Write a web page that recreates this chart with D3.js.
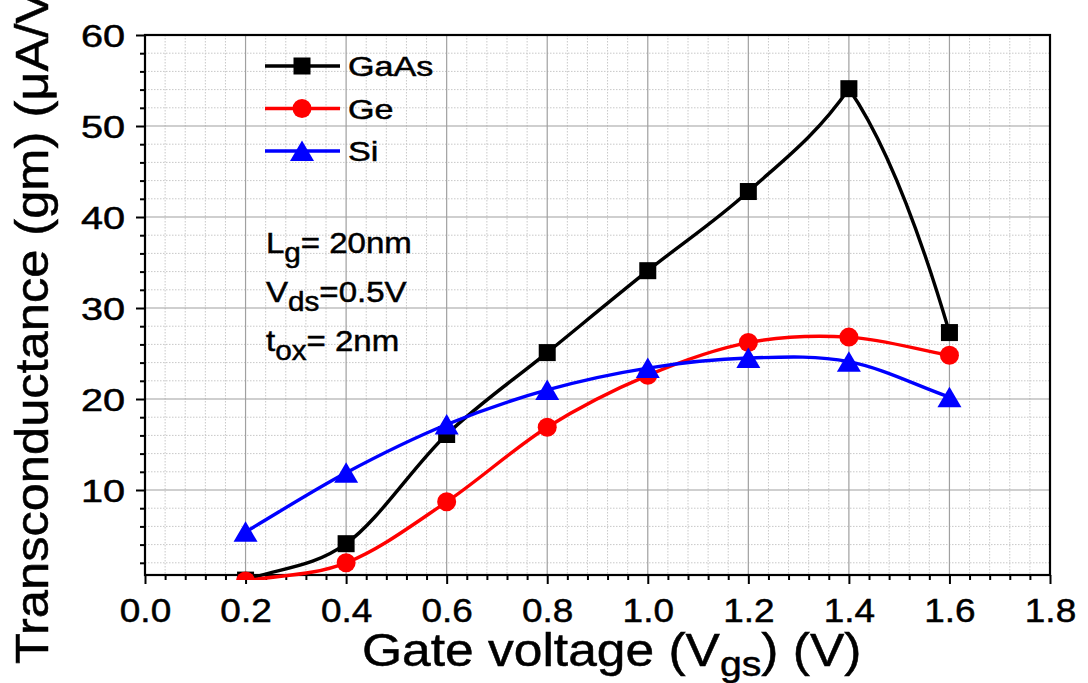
<!DOCTYPE html>
<html>
<head>
<meta charset="utf-8">
<script src="https://cdn.jsdelivr.net/npm/d3@7"></script>
<style>
  html, body { margin: 0; padding: 0; background: #fff; }
  svg { display: block; }
  text { font-family: "Liberation Sans", Arial, sans-serif; fill: #000; stroke: #000; stroke-width: 0.5px; }
</style>
</head>
<body>
<svg id="chart" width="1088" height="683"></svg>
<script>
// Gate voltage sweep (V)
const vgs = [0.2, 0.4, 0.6, 0.8, 1.0, 1.2, 1.4, 1.6];
// Transconductance gm (µA/V) per channel material
const gaas = [0.1, 4.1, 16.1, 25.1, 34.1, 42.8, 54.1, 27.3];
const ge   = [0.0, 2.0, 8.7, 16.9, 22.6, 26.2, 26.8, 24.8];
const si   = [5.4, 11.9, 17.2, 21.0, 23.4, 24.5, 24.1, 20.2];

const seriesNames = ["GaAs", "Ge", "Si"];
const xTickValues = [0.0, 0.2, 0.4, 0.6, 0.8, 1.0, 1.2, 1.4, 1.6, 1.8];
const yTickValues = [10, 20, 30, 40, 50, 60];

const plot = { left: 145, right: 1050, top: 35, bottom: 575 };

const svg = d3.select("#chart");

const x = d3.scaleLinear().domain([0, 1.8]).range([plot.left, plot.right]);
const y = d3.scaleLinear().domain([0.66, 60]).range([plot.bottom, plot.top]);

const xMinor = d3.range(0, 1.8001, 0.04).map(v => +v.toFixed(2)).filter(v => !xTickValues.some(t => Math.abs(t - v) < 1e-6));
const yMinor = d3.range(2, 60.001, 2).filter(v => v % 10 !== 0);

// ---- grid ----
const grid = svg.append("g");
grid.selectAll(".gxm").data(xMinor).join("line")
  .attr("x1", d => x(d)).attr("x2", d => x(d))
  .attr("y1", plot.top).attr("y2", plot.bottom)
  .attr("stroke", "#c8c8c8").attr("stroke-width", 1).attr("stroke-dasharray", "1.5,1.5");
grid.selectAll(".gym").data(yMinor).join("line")
  .attr("y1", d => y(d)).attr("y2", d => y(d))
  .attr("x1", plot.left).attr("x2", plot.right)
  .attr("stroke", "#c8c8c8").attr("stroke-width", 1).attr("stroke-dasharray", "1.5,1.5");
grid.selectAll(".gxM").data(xTickValues.slice(1, -1)).join("line")
  .attr("x1", d => x(d)).attr("x2", d => x(d))
  .attr("y1", plot.top).attr("y2", plot.bottom)
  .attr("stroke", "#a0a0a0").attr("stroke-width", 1.2);
grid.selectAll(".gyM").data(yTickValues.slice(0, -1)).join("line")
  .attr("y1", d => y(d)).attr("y2", d => y(d))
  .attr("x1", plot.left).attr("x2", plot.right)
  .attr("stroke", "#a0a0a0").attr("stroke-width", 1.2);

// ---- axes ----
const fmt = d3.format(".1f");
const xAxis = svg.append("g").attr("transform", `translate(0,${plot.bottom})`)
  .call(d3.axisBottom(x).tickValues(xTickValues).tickFormat(fmt).tickSize(9).tickSizeOuter(0));
const xAxisMinor = svg.append("g").attr("transform", `translate(0,${plot.bottom})`)
  .call(d3.axisBottom(x).tickValues(xMinor).tickFormat("").tickSize(5).tickSizeOuter(0));
const yAxis = svg.append("g").attr("transform", `translate(${plot.left},0)`)
  .call(d3.axisLeft(y).tickValues(yTickValues).tickSize(9).tickSizeOuter(0));
const yAxisMinor = svg.append("g").attr("transform", `translate(${plot.left},0)`)
  .call(d3.axisLeft(y).tickValues(yMinor).tickFormat("").tickSize(5).tickSizeOuter(0));

[xAxis, xAxisMinor, yAxis, yAxisMinor].forEach(g => {
  g.select(".domain").remove();
  g.selectAll(".tick line").attr("stroke", "#000").attr("stroke-width", 2);
});
xAxis.selectAll(".tick text")
  .attr("font-size", 33).attr("y", 0).attr("dy", 0).attr("fill", "#000")
  .attr("transform", "translate(0,47) scale(1.12,1)");
yAxis.selectAll(".tick text")
  .attr("font-size", 31).attr("x", 0).attr("dy", "0.36em").attr("fill", "#000")
  .attr("transform", "translate(-20,0) scale(1.28,1)");

// frame
svg.append("rect")
  .attr("x", plot.left).attr("y", plot.top)
  .attr("width", plot.right - plot.left).attr("height", plot.bottom - plot.top)
  .attr("fill", "none").attr("stroke", "#000").attr("stroke-width", 2.2);

// ---- curve: cubic Hermite through the points, with a split tangent at sharp peaks ----
const K = 0.6;
function curveSpline(context) {
  let xs, ys;
  return {
    areaStart() {}, areaEnd() {},
    lineStart() { xs = []; ys = []; },
    point(px, py) { xs.push(+px); ys.push(+py); },
    lineEnd() {
      const n = xs.length;
      if (!n) return;
      context.moveTo(xs[0], ys[0]);
      if (n === 1) return;
      const d = [];
      for (let i = 0; i < n - 1; i++) d.push((ys[i + 1] - ys[i]) / (xs[i + 1] - xs[i]));
      const mIn = new Array(n), mOut = new Array(n), cusp = new Array(n).fill(false);
      for (let i = 1; i < n - 1; i++) {
        if (d[i - 1] * d[i] < 0 && Math.min(Math.abs(d[i - 1]), Math.abs(d[i])) > 0.5) {
          cusp[i] = true;
          mIn[i] = (2 - K) * d[i - 1];
          mOut[i] = K * d[i];
        } else {
          mIn[i] = mOut[i] = (d[i - 1] + d[i]) / 2;
        }
      }
      mOut[0] = cusp[1] ? K * d[0] : d[0];
      mIn[n - 1] = cusp[n - 2] ? (2 - K) * d[n - 2] : d[n - 2];
      for (let i = 0; i < n - 1; i++) {
        const h = xs[i + 1] - xs[i];
        context.bezierCurveTo(
          xs[i] + h / 3, ys[i] + mOut[i] * h / 3,
          xs[i + 1] - h / 3, ys[i + 1] - mIn[i + 1] * h / 3,
          xs[i + 1], ys[i + 1]);
      }
    }
  };
}

// ---- data ----
svg.append("clipPath").attr("id", "plotClip").append("rect")
  .attr("x", plot.left).attr("y", plot.top)
  .attr("width", plot.right - plot.left).attr("height", plot.bottom - plot.top + 5);

const series = [
  { name: seriesNames[0], values: gaas, color: "#000000", marker: "square" },
  { name: seriesNames[1], values: ge,   color: "#ff0000", marker: "circle" },
  { name: seriesNames[2], values: si,   color: "#0000ff", marker: "triangle" }
];

const line = d3.line().x((d, i) => x(vgs[i])).y(d => y(d)).curve(curveSpline);

function drawMarker(g, kind, color) {
  if (kind === "square") {
    g.append("rect").attr("x", -8.5).attr("y", -8.5).attr("width", 17).attr("height", 17).attr("fill", color);
  } else if (kind === "circle") {
    g.append("circle").attr("r", 9.5).attr("fill", color);
  } else {
    g.append("path").attr("d", "M0,-10.5L12,10L-12,10Z").attr("fill", color);
  }
}

const dataLayer = svg.append("g").attr("clip-path", "url(#plotClip)");
series.forEach(s => {
  dataLayer.append("path").datum(s.values)
    .attr("d", line).attr("fill", "none")
    .attr("stroke", s.color).attr("stroke-width", 3.4).attr("stroke-linejoin", "round");
  s.values.forEach((v, i) => {
    const g = dataLayer.append("g").attr("transform", `translate(${x(vgs[i])},${y(v)})`);
    drawMarker(g, s.marker, s.color);
  });
});

// ---- legend ----
const legend = svg.append("g");
series.forEach((s, i) => {
  const ly = 66 + i * 42.5;
  legend.append("line").attr("x1", 265).attr("x2", 340).attr("y1", ly).attr("y2", ly)
    .attr("stroke", s.color).attr("stroke-width", 3.4);
  drawMarker(legend.append("g").attr("transform", `translate(302,${ly})`), s.marker, s.color);
  legend.append("text").attr("transform", `translate(348,${ly + 10}) scale(1.22,1)`)
    .attr("font-size", 28).text(s.name);
});

// ---- device parameters ----
const notes = [
  { main: "L", sub: "g", rest: "= 20nm" },
  { main: "V", sub: "ds", rest: "=0.5V" },
  { main: "t", sub: "ox", rest: "= 2nm" }
];
notes.forEach((nt, i) => {
  const t = svg.append("text")
    .attr("transform", `translate(266,${253 + i * 49}) scale(1.1,1)`)
    .attr("font-size", 30);
  t.append("tspan").text(nt.main);
  t.append("tspan").attr("font-size", 27).attr("dy", 9).text(nt.sub);
  t.append("tspan").attr("dy", -9).text(nt.rest);
});

// ---- axis titles ----
const xt = svg.append("text")
  .attr("transform", "translate(362,666) scale(1.12,1)")
  .attr("font-size", 46);
xt.append("tspan").text("Gate voltage (V");
xt.append("tspan").attr("font-size", 35).attr("dy", 10).text("gs");
xt.append("tspan").attr("dy", -10).text(") (V)");

svg.append("text")
  .attr("transform", "translate(48,664) rotate(-90) scale(1.1,1)")
  .attr("font-size", 46)
  .text("Transconductance (gm) (\u03bcA/V)");
</script>
</body>
</html>
